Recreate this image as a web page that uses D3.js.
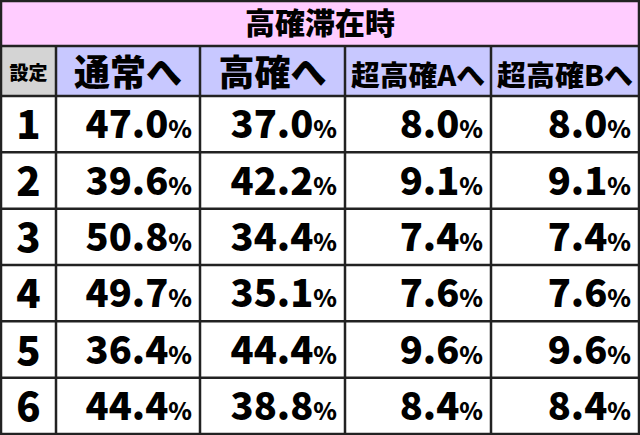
<!DOCTYPE html><html><head><meta charset="utf-8"><script src="https://cdn.jsdelivr.net/npm/d3@7"></script>
<style>body{margin:0;background:#fff}</style></head><body><svg id="c" width="640" height="435"></svg>
<script>
const title="高確滞在時";
const headers=["設定","通常へ","高確へ","超高確Aへ","超高確Bへ"];
const settings=["1","2","3","4","5","6"];
const toNormal=[47.0,39.6,50.8,49.7,36.4,44.4];
const toHigh=[37.0,42.2,34.4,35.1,44.4,38.8];
const toSuperA=[8.0,9.1,7.4,7.6,9.6,8.4];
const toSuperB=[8.0,9.1,7.4,7.6,9.6,8.4];
const series=[toNormal,toHigh,toSuperA,toSuperB];
const svg=d3.select("#c");
const colEdges=[1,56,200,345,491,639];
const x=d3.scaleOrdinal().domain(d3.range(5)).range(colEdges.slice(0,5));
const w=i=>colEdges[i+1]-colEdges[i];
const y=d3.scaleBand().domain(d3.range(6)).range([96,434]);
const font="'Noto Sans CJK JP', sans-serif";
svg.append("rect").attr("x",1).attr("y",1).attr("width",638).attr("height",45).attr("fill","#ffccff");
svg.append("text").attr("x",320).attr("y",34).attr("text-anchor","middle").attr("font-family",font).attr("font-weight",900).attr("font-size",30).text(title);
headers.forEach((h,i)=>{
 svg.append("rect").attr("x",x(i)).attr("y",46).attr("width",w(i)).attr("height",50).attr("fill",i==0?"#d4d4d4":"#c8c8ff");
 svg.append("text").attr("x",x(i)+w(i)/2).attr("y",i==0?80:86).attr("text-anchor","middle").attr("font-family",font).attr("font-weight",900)
  .attr("font-size",i==0?19:(i>=3?28:36)).attr("textLength",i==0?null:(i>=3?w(i)-12:null)).attr("lengthAdjust","spacingAndGlyphs").text(h);
});
settings.forEach((s,r)=>{
 svg.append("text").attr("x",x(0)+w(0)/2).attr("y",y(r)+y.bandwidth()/2+15).attr("text-anchor","middle").attr("font-family",font).attr("font-weight",900).attr("font-size",40).text(s);
 series.forEach((arr,c)=>{
  const t=svg.append("text").attr("x",x(c+1)+w(c+1)-8).attr("y",y(r)+y.bandwidth()/2+14).attr("text-anchor","end").attr("font-family",font).attr("font-weight",900);
  t.append("tspan").attr("font-size",38).text(arr[r].toFixed(1));
  t.append("tspan").attr("font-size",24).text("%");
 });
});
const g=svg.append("g").attr("stroke","#222").attr("stroke-width",2.5).attr("fill","none");
g.append("rect").attr("x",1).attr("y",1).attr("width",638).attr("height",433);
g.append("line").attr("x1",0).attr("x2",640).attr("y1",46).attr("y2",46);
[96,...y.domain().map(d=>y(d)+y.bandwidth()).slice(0,5)].forEach(v=>g.append("line").attr("x1",v?0:0).attr("x2",640).attr("y1",v).attr("y2",v));
colEdges.slice(1,5).forEach(v=>g.append("line").attr("x1",v).attr("x2",v).attr("y1",46).attr("y2",435));
</script></body></html>
